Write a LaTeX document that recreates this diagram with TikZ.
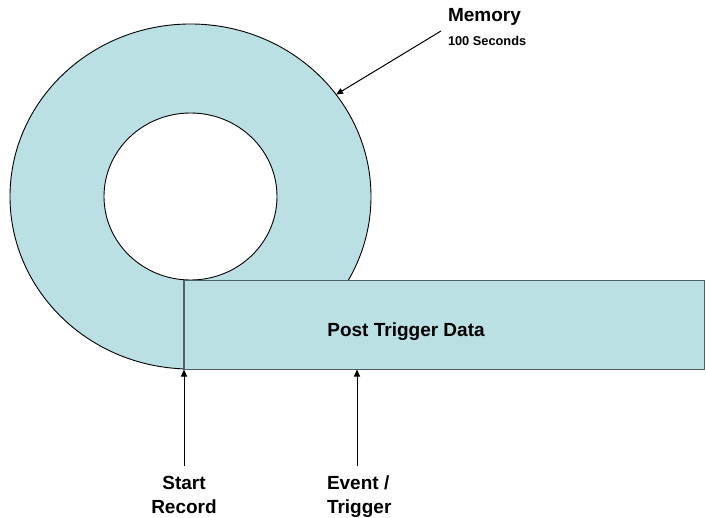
\documentclass[tikz,border=0pt]{standalone}
\usepackage{fontspec}
\setmainfont{Liberation Sans}
\usetikzlibrary{shapes.geometric,arrows.meta}
\definecolor{ringfill}{HTML}{BBE0E3}
\definecolor{rectedge}{HTML}{4F6164}
\tikzset{
  ring/.style={ellipse, draw=black, line width=0.9pt, inner sep=0pt, outer sep=0pt},
  databox/.style={rectangle, draw=rectedge, fill=ringfill, line width=1.1pt, inner sep=0pt, outer sep=0pt},
  lbl/.style={inner sep=0pt, outer sep=0pt, font=\bfseries\fontsize{19}{24}\selectfont},
  small/.style={inner sep=0pt, outer sep=0pt, font=\bfseries\fontsize{12.8}{15}\selectfont},
  arr/.style={draw=black, line width=1pt, -{Triangle[length=7pt,width=6pt]}}
}
\begin{document}
\begin{tikzpicture}[x=1pt, y=-1pt]
\useasboundingbox (0,0) rectangle (706,518);
% rings
\node[ring, fill=ringfill, minimum width=361pt, minimum height=345pt] (outer) at (190.5,196.5) {};
\node[ring, fill=white, minimum width=173pt, minimum height=167pt] (inner) at (190.5,196.5) {};
% post trigger box
\node[databox, minimum width=520.5pt, minimum height=89pt, anchor=north west] (post) at (184,280.5) {};
\node[lbl, anchor=base] (ptd) at (406,336) {Post Trigger Data};
% memory label
\node[lbl, anchor=base west] (mem) at (448,22) {Memory};
\node[small, anchor=base west] (secs) at (448,46) {100 Seconds};
\coordinate (ma) at (441,31);
\draw[arr] (ma) -- (outer.35.8);
% bottom labels
\node[lbl, align=center, anchor=north] (start) at (184,476) {Start\\Record};
\node[lbl, align=left, anchor=north west] (event) at (327,476) {Event /\\Trigger};
\coordinate (sa) at (184,466);
\coordinate (ea) at (357,466);
\draw[arr] (sa) -- (post.south west);
\draw[arr] (ea) -- (ea |- post.south);
\end{tikzpicture}
\end{document}
